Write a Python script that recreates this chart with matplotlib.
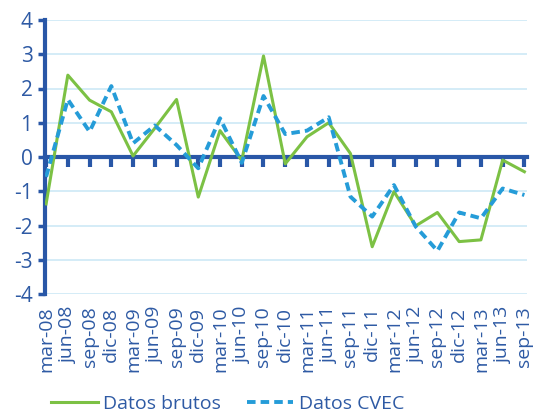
import matplotlib
matplotlib.use("Agg")
import matplotlib.pyplot as plt

categories = ["mar-08", "jun-08", "sep-08", "dic-08", "mar-09", "jun-09", "sep-09", "dic-09",
              "mar-10", "jun-10", "sep-10", "dic-10", "mar-11", "jun-11", "sep-11", "dic-11",
              "mar-12", "jun-12", "sep-12", "dic-12", "mar-13", "jun-13", "sep-13"]
datos_brutos = [-1.37, 2.39, 1.66, 1.32, 0.03, 0.84, 1.68, -1.17, 0.77, -0.10, 2.95, -0.20,
                0.59, 1.00, 0.10, -2.62, -1.01, -2.01, -1.62, -2.47, -2.42, -0.09, -0.43]
datos_cvec = [-0.58, 1.68, 0.74, 2.07, 0.40, 0.92, 0.35, -0.33, 1.13, -0.17, 1.78, 0.67,
              0.77, 1.16, -1.16, -1.74, -0.82, -2.03, -2.74, -1.62, -1.79, -0.92, -1.11]
yticks = [-4, -3, -2, -1, 0, 1, 2, 3, 4]

plt.rcParams['font.family'] = ['Open Sans', 'DejaVu Sans']
TXT = '#2E5AA4'
AX = '#2957A7'
GREEN = '#7CC144'
BLUE = '#259CD8'
GRID = '#CDE9F6'

fig = plt.figure(figsize=(5.42, 4.12), dpi=100)
ax = fig.add_axes([45/542, 1-294/412, (527-45)/542, (294-20)/412])
x = list(range(len(categories)))

xlim = (-0.05, len(categories) - 1 + 0.12)

ax2 = ax.twiny()
ax2.set_xlim(*xlim)
ax2.xaxis.set_ticks_position('bottom')
ax2.xaxis.set_label_position('bottom')
ax2.set_xticks(x)
ax2.set_xticklabels(categories, rotation=90)
for s in ax2.spines.values():
    s.set_visible(False)
ax2.tick_params(axis='x', length=0, labelcolor=TXT, labelsize=14, pad=9, labelbottom=True, labeltop=False)

ax.plot(x, datos_brutos, color=GREEN, lw=2.2, label='Datos brutos', zorder=3)
ax.plot(x, datos_cvec, color=BLUE, lw=2.8, ls=(0, (2.2, 1.3)), label='Datos CVEC', zorder=3)
ax.set_xlim(*xlim)
ax.set_ylim(-4, 4)
ax.set_yticks(yticks)
ax.set_yticklabels([str(v) for v in yticks])
ax.set_xticks(x)
ax.grid(axis='y', color=GRID, lw=1.2, zorder=0)
ax.set_axisbelow(True)
for s in ['top', 'right']:
    ax.spines[s].set_visible(False)
ax.spines['left'].set_color(AX)
ax.spines['left'].set_linewidth(3)
ax.spines['bottom'].set_position(('data', 0))
ax.spines['bottom'].set_color(AX)
ax.spines['bottom'].set_linewidth(3)
ax.xaxis.set_ticks_position('bottom')
ax.tick_params(axis='y', colors=AX, labelcolor=TXT, labelsize=15, length=5, width=2.5, pad=4)
ax.tick_params(axis='x', which='major', direction='out', bottom=True, length=7, width=3,
               color=AX, labelbottom=False)

leg = ax.legend(loc='lower center', bbox_to_anchor=(0.42, -0.045), bbox_transform=fig.transFigure,
                ncol=2, frameon=False, fontsize=14, handlelength=2.4, handletextpad=0.3,
                columnspacing=1.3)
for t in leg.get_texts():
    t.set_color(TXT)

fig.savefig('out.png', dpi=100)
